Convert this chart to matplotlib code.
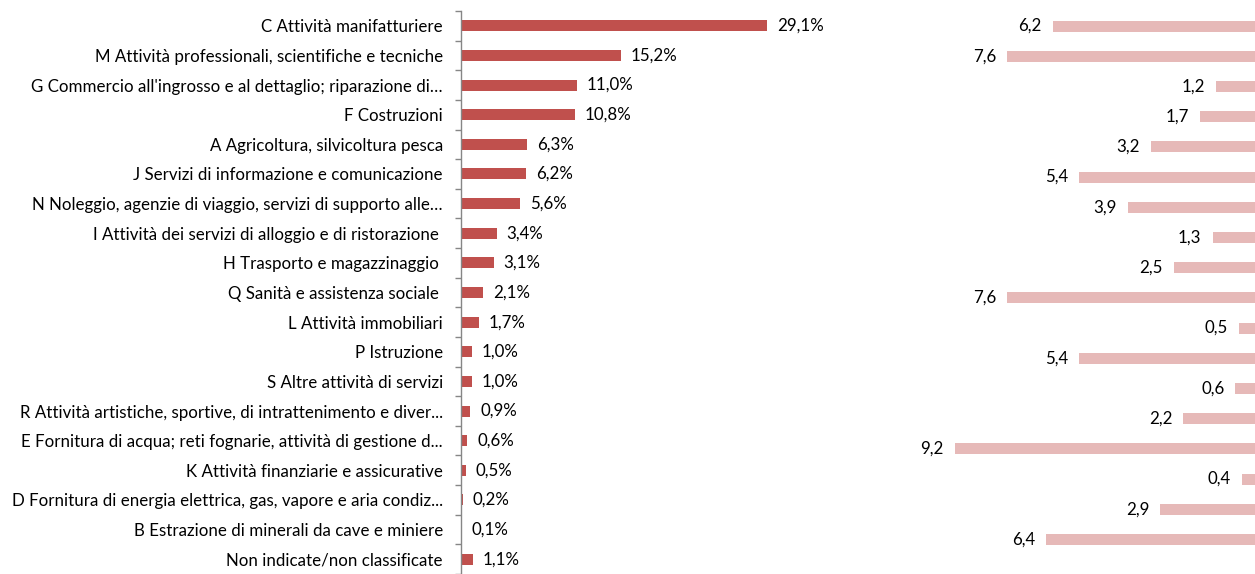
import matplotlib
matplotlib.use("Agg")
import matplotlib.pyplot as plt
import numpy as np

plt.rcParams['font.family'] = ['Lato', 'DejaVu Sans']

categories = [
    "C Attività manifatturiere",
    "M Attività professionali, scientifiche e tecniche",
    "G Commercio all'ingrosso e al dettaglio; riparazione di…",
    "F Costruzioni",
    "A Agricoltura, silvicoltura pesca",
    "J Servizi di informazione e comunicazione",
    "N Noleggio, agenzie di viaggio, servizi di supporto alle…",
    "I Attività dei servizi di alloggio e di ristorazione ",
    "H Trasporto e magazzinaggio ",
    "Q Sanità e assistenza sociale ",
    "L Attività immobiliari",
    "P Istruzione",
    "S Altre attività di servizi",
    "R Attività artistiche, sportive, di intrattenimento e diver...",
    "E Fornitura di acqua; reti fognarie, attività di gestione d...",
    "K Attività finanziarie e assicurative",
    "D Fornitura di energia elettrica, gas, vapore e aria condiz...",
    "B Estrazione di minerali da cave e miniere",
    "Non indicate/non classificate",
]
share_pct = [29.1, 15.2, 11.0, 10.8, 6.3, 6.2, 5.6, 3.4, 3.1, 2.1, 1.7, 1.0, 1.0, 0.9, 0.6, 0.5, 0.2, 0.1, 1.1]
right_vals = [6.2, 7.6, 1.2, 1.7, 3.2, 5.4, 3.9, 1.3, 2.5, 7.6, 0.5, 5.4, 0.6, 2.2, 9.2, 0.4, 2.9, 6.4, None]

W, H = 1255, 574
fig = plt.figure(figsize=(W / 100, H / 100), dpi=100)

def px_axes(x0, x1, y0, y1):
    return fig.add_axes([x0 / W, 1 - y1 / H, (x1 - x0) / W, (y1 - y0) / H])

n = len(categories)
ypos = np.arange(n)
top_px = 11
row_px = 30.2
ylim = (-0.5 + (574 - top_px) / row_px, -0.5)
FS = 12.2

# Left chart
axL = px_axes(461, 880, top_px, 574)
axL.barh(ypos, share_pct, height=0.37, color='#C0504D', edgecolor='none')
axL.set_xlim(0, 419 / 10.53)
axL.set_ylim(*ylim)
for s in ['top', 'right', 'bottom']:
    axL.spines[s].set_visible(False)
axL.spines['left'].set_color('#868686')
axL.spines['left'].set_linewidth(1.0)
axL.set_xticks([])
axL.set_yticks(ypos)
axL.set_yticklabels(categories, fontsize=FS, color='black')
axL.tick_params(axis='y', which='major', length=0, pad=13)
axL.set_yticks(np.arange(-0.5, n + 0.5, 1), minor=True)
axL.tick_params(axis='y', which='minor', length=4.5, color='#868686', width=1)
for y, v in zip(ypos, share_pct):
    axL.annotate(f"{v:.1f}%".replace('.', ','), (v, y), xytext=(7, 0),
                 textcoords='offset points', va='center', ha='left', fontsize=FS)

# Right chart
axR = px_axes(900, 1255, top_px, 574)
rv = [v if v is not None else 0 for v in right_vals]
axR.barh(ypos, rv, height=0.37, color='#E6B9B8', edgecolor='none')
axR.set_xlim(355 / 32.6, 0)
axR.set_ylim(*ylim)
axR.axis('off')
for y, v in zip(ypos, right_vals):
    if v is None:
        continue
    axR.annotate(f"{v:.1f}".replace('.', ','), (v, y), xytext=(-8, 0),
                 textcoords='offset points', va='center', ha='right', fontsize=FS)

fig.savefig('out.png', dpi=100)
